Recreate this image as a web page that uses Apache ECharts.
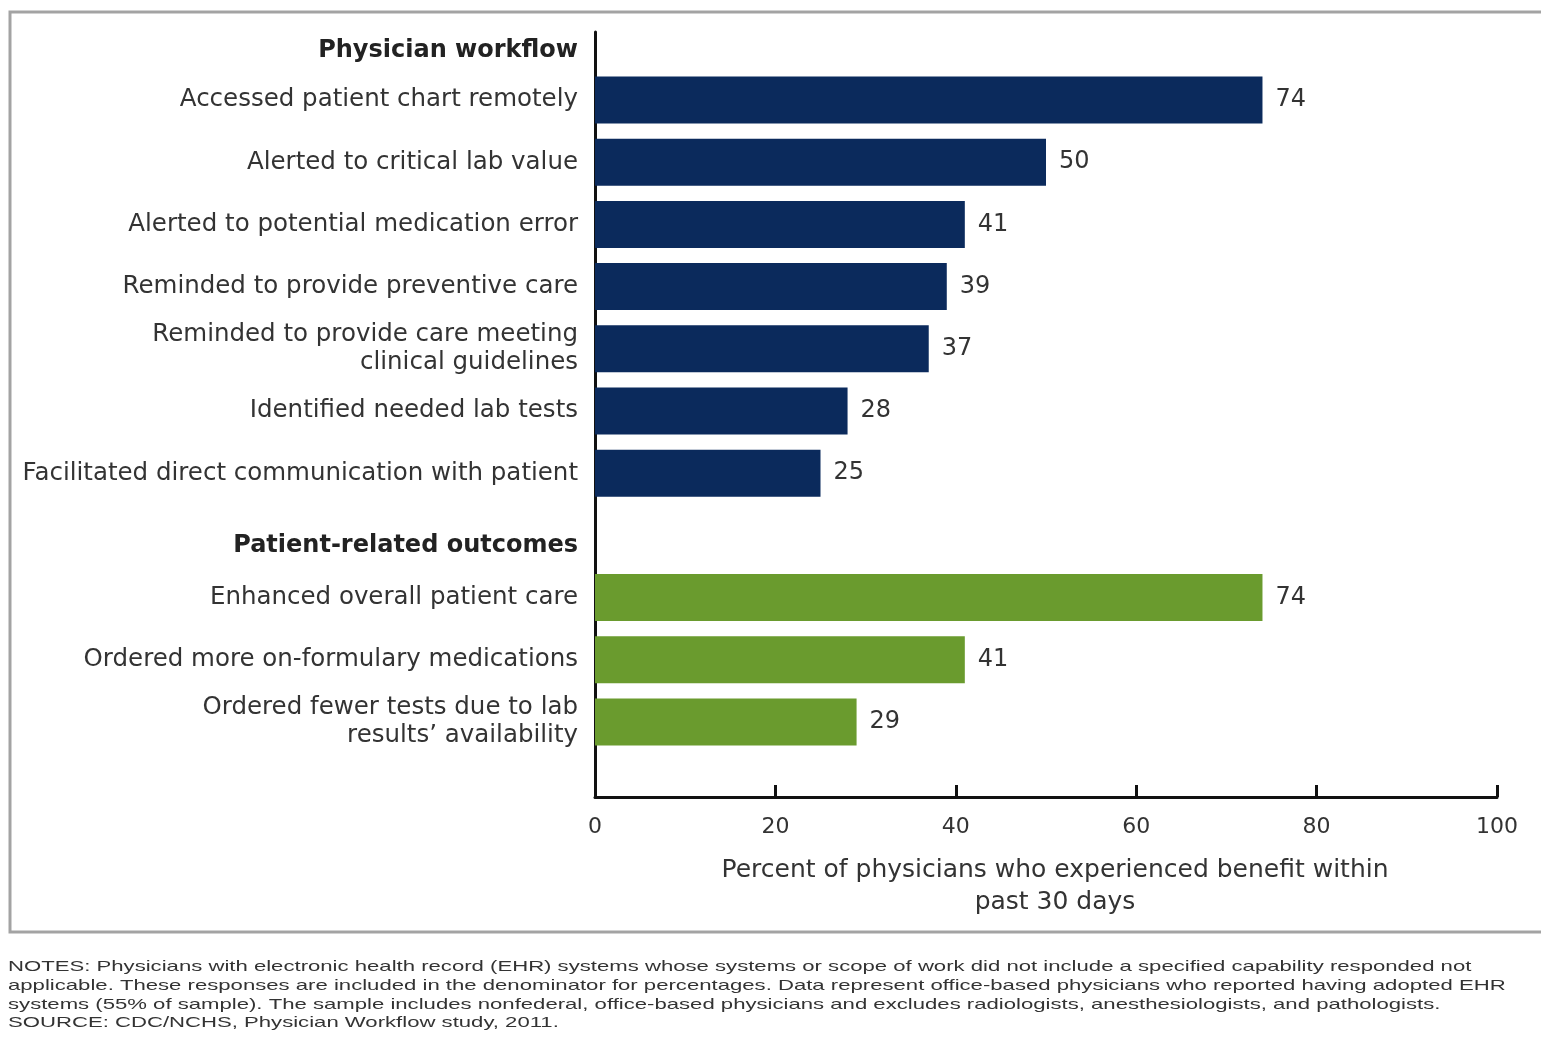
<!DOCTYPE html>
<html>
<head>
<meta charset="utf-8">
<style>
html,body{margin:0;padding:0;background:#fff;}
#chart{width:1541px;height:1047px;}
</style>
<script src="https://cdn.jsdelivr.net/npm/echarts@6/dist/echarts.min.js"></script>
</head>
<body>
<div id="chart"></div>
<script>
// ---- data ----
var categories = [
  'Physician workflow',
  'Accessed patient chart remotely',
  'Alerted to critical lab value',
  'Alerted to potential medication error',
  'Reminded to provide preventive care',
  'Reminded to provide care meeting\nclinical guidelines',
  'Identified needed lab tests',
  'Facilitated direct communication with patient',
  'Patient-related outcomes',
  'Enhanced overall patient care',
  'Ordered more on-formulary medications',
  'Ordered fewer tests due to lab\nresults\u2019 availability'
];
var headers = ['Physician workflow', 'Patient-related outcomes'];
var workflowValues = [null, 74, 50, 41, 39, 37, 28, 25, null, null, null, null];
var outcomeValues  = [null, null, null, null, null, null, null, null, null, 74, 41, 29];
var xTicks = [0, 20, 40, 60, 80, 100];
var xAxisTitle = 'Percent of physicians who experienced benefit within\npast 30 days';
var notes = [
  'NOTES: Physicians with electronic health record (EHR) systems whose systems or scope of work did not include a specified capability responded not',
  'applicable. These responses are included in the denominator for percentages. Data represent office-based physicians who reported having adopted EHR',
  'systems (55% of sample). The sample includes nonfederal, office-based physicians and excludes radiologists, anesthesiologists, and pathologists.',
  'SOURCE: CDC/NCHS, Physician Workflow study, 2011.'
];

var FONT = '"DejaVu Sans", "Liberation Sans", Arial, sans-serif';
var NOTE_FONT = '"Liberation Sans", Arial, sans-serif';
var chart = echarts.init(document.getElementById('chart'), null, {renderer: 'canvas'});

var option = {
  animation: false,
  backgroundColor: '#ffffff',
  textStyle: {fontFamily: FONT},
  grid: [
    {left: 595, right: 44, top: 6.7, bottom: 293.9, containLabel: false},
    {left: 595, right: 44, top: 32, bottom: 250, containLabel: false}
  ],
  xAxis: [
    {gridIndex: 0, type: 'value', min: 0, max: 100, interval: 20, show: false},
    {
      gridIndex: 1, type: 'value', min: xTicks[0], max: xTicks[xTicks.length - 1], interval: 20,
      axisLine: {show: true, lineStyle: {color: '#111', width: 3}},
      axisTick: {show: true, inside: true, length: 12, lineStyle: {color: '#111', width: 3}},
      splitLine: {show: false},
      axisLabel: {show: true, fontSize: 22, color: '#333', margin: 19, fontFamily: FONT},
      name: xAxisTitle, nameLocation: 'middle', nameGap: 57,
      nameTextStyle: {fontSize: 25, color: '#333', lineHeight: 32, fontFamily: FONT, padding: [0, 0, 0, 18]}
    }
  ],
  yAxis: [
    {
      gridIndex: 0, type: 'category', data: categories, inverse: true,
      axisLine: {show: false}, axisTick: {show: false}, splitLine: {show: false},
      axisLabel: {
        margin: 17, fontSize: 24.5, color: '#333', lineHeight: 28, align: 'right', fontFamily: FONT,
        formatter: function (v) {
          if (v === headers[0]) return '{h1|' + v + '}';
          if (v === headers[1]) return '{h2|' + v + '}';
          return v;
        },
        rich: {
          h1: {fontSize: 24, fontWeight: 'bold', color: '#222', padding: [26, 0, 0, 0], fontFamily: FONT},
          h2: {fontSize: 24, fontWeight: 'bold', color: '#222', padding: [20, 0, 0, 0], fontFamily: FONT}
        }
      }
    },
    {
      gridIndex: 1, type: 'value', min: 0, max: 1,
      axisLine: {show: true, onZero: false, lineStyle: {color: '#111', width: 3}},
      axisTick: {show: false}, axisLabel: {show: false}, splitLine: {show: false}
    }
  ],
  series: [
    {
      name: 'Physician workflow', type: 'bar', xAxisIndex: 0, yAxisIndex: 0,
      data: workflowValues, barWidth: 47, barGap: '-100%',
      itemStyle: {color: '#0b2a5c'},
      label: {show: true, position: 'right', distance: 13, fontSize: 24, color: '#333', fontFamily: FONT}
    },
    {
      name: 'Patient-related outcomes', type: 'bar', xAxisIndex: 0, yAxisIndex: 0,
      data: outcomeValues, barWidth: 47, barGap: '-100%',
      itemStyle: {color: '#6a9b2e'},
      label: {show: true, position: 'right', distance: 13, fontSize: 24, color: '#333', fontFamily: FONT}
    }
  ],
  graphic: [
    {
      type: 'rect', x: 10, y: 12, silent: true,
      shape: {x: 0, y: 0, width: 1545, height: 920},
      style: {fill: 'none', stroke: '#a3a3a3', lineWidth: 3}
    },
    {
      type: 'text', x: 8, y: 958, scaleX: 1.475, silent: true,
      style: {
        text: notes.join('\n'), font: '15px ' + NOTE_FONT, fill: '#333', lineHeight: 18.6,
        verticalAlign: 'top', align: 'left'
      }
    }
  ]
};
chart.setOption(option);
</script>
</body>
</html>
